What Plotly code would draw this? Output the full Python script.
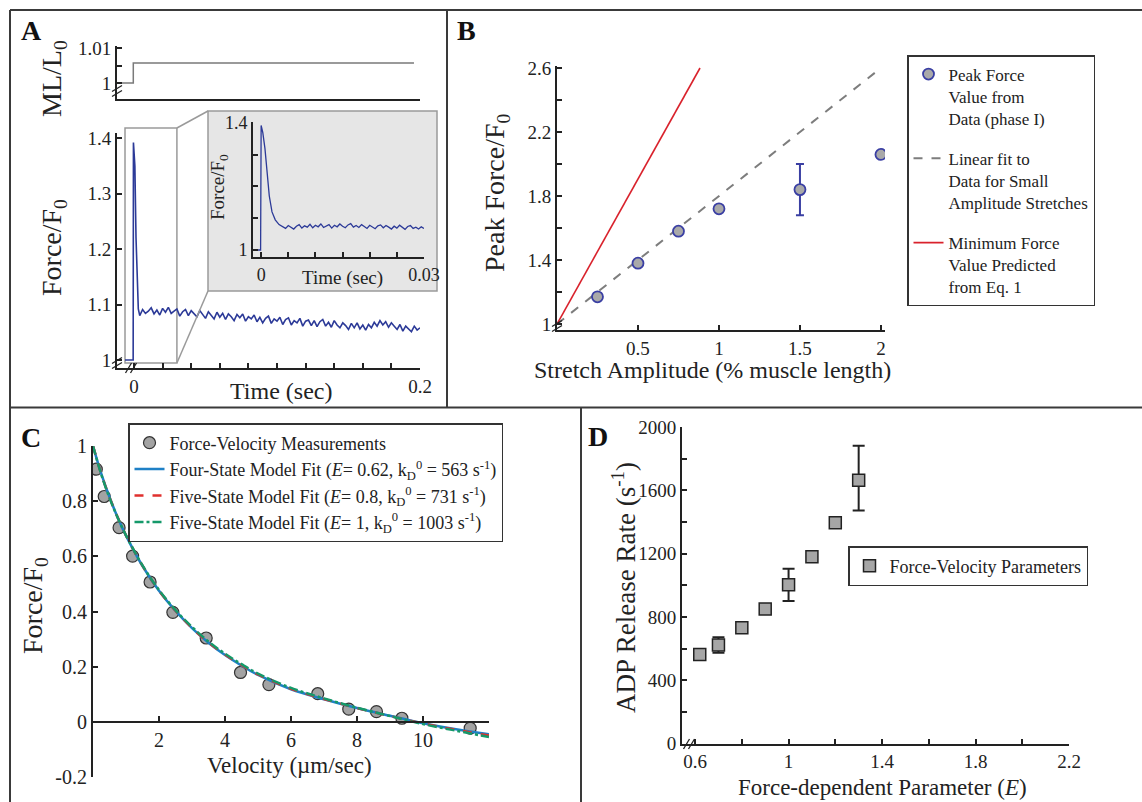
import plotly.graph_objects as go

# ======================= DATA =======================
# Panel A - length step (top trace)
stepA_time = [-0.0119, -0.0005, -0.0005, 0.1958]
stepA_ml = [1.0, 1.0, 1.0057, 1.0057]

# Panel A - force transient (main trace)
forceA_time = [
    -0.0063, -0.0006, -0.0004, 0.0006, 0.0014, 0.0022, 0.0030,
    0.004, 0.006, 0.008, 0.010, 0.012, 0.014, 0.016, 0.018, 0.020, 0.022,
    0.024, 0.026, 0.028, 0.030, 0.032, 0.034, 0.036, 0.038, 0.040, 0.042,
    0.044, 0.046, 0.048, 0.050, 0.052, 0.054, 0.056, 0.058, 0.060, 0.062,
    0.064, 0.066, 0.068, 0.070, 0.072, 0.074, 0.076, 0.078, 0.080, 0.082,
    0.084, 0.086, 0.088, 0.090, 0.092, 0.094, 0.096, 0.098, 0.100, 0.102,
    0.104, 0.106, 0.108, 0.110, 0.112, 0.114, 0.116, 0.118, 0.120, 0.122,
    0.124, 0.126, 0.128, 0.130, 0.132, 0.134, 0.136, 0.138, 0.140, 0.142,
    0.144, 0.146, 0.148, 0.150, 0.152, 0.154, 0.156, 0.158, 0.160, 0.162,
    0.164, 0.166, 0.168, 0.170, 0.172, 0.174, 0.176, 0.178, 0.180, 0.182,
    0.184, 0.186, 0.188, 0.190, 0.192, 0.194, 0.196, 0.198, 0.200,
]
forceA_val = [
    1.0, 1.0, 1.392, 1.35, 1.22, 1.13, 1.092,
    1.080, 1.091, 1.084, 1.088, 1.094, 1.083, 1.090, 1.081, 1.093, 1.086,
    1.095, 1.084, 1.088, 1.092, 1.079, 1.087, 1.091, 1.080, 1.089, 1.083,
    1.078, 1.089, 1.082, 1.075, 1.087, 1.080, 1.074, 1.086, 1.077, 1.084,
    1.073, 1.083, 1.078, 1.071, 1.082, 1.076, 1.083, 1.070, 1.078, 1.074,
    1.081, 1.069, 1.077, 1.067, 1.075, 1.079, 1.066, 1.074, 1.070, 1.077,
    1.064, 1.073, 1.076, 1.063, 1.071, 1.067, 1.075, 1.061, 1.070, 1.072,
    1.062, 1.071, 1.060, 1.069, 1.073, 1.061, 1.068, 1.059, 1.071, 1.063,
    1.058, 1.067, 1.062, 1.055, 1.066, 1.058, 1.067, 1.056, 1.063, 1.054,
    1.064, 1.058, 1.068, 1.061, 1.071, 1.063, 1.069, 1.059, 1.067, 1.061,
    1.055, 1.064, 1.052, 1.061, 1.056, 1.051, 1.061, 1.054, 1.058,
]

# Panel A - inset (first 0.03 s)
insetA_time = [
    -0.0011, -0.0001, 0.0000, 0.0003, 0.0007, 0.0011, 0.0015, 0.0020, 0.0026, 0.0033, 0.0040,
    0.0045, 0.0050, 0.0055, 0.0060, 0.0065, 0.0070, 0.0075, 0.0080, 0.0085, 0.0090,
    0.0095, 0.0100, 0.0105, 0.0110, 0.0115, 0.0120, 0.0125, 0.0130, 0.0135, 0.0140,
    0.0145, 0.0150, 0.0155, 0.0160, 0.0165, 0.0170, 0.0175, 0.0180, 0.0185, 0.0190,
    0.0195, 0.0200, 0.0205, 0.0210, 0.0215, 0.0220, 0.0225, 0.0230, 0.0235, 0.0240,
    0.0245, 0.0250, 0.0255, 0.0260, 0.0265, 0.0270, 0.0275, 0.0280, 0.0285, 0.0290,
    0.0295, 0.0300,
]
insetA_val = [
    1.0, 1.0, 1.392, 1.37, 1.32, 1.24, 1.17, 1.12, 1.095, 1.08, 1.073,
    1.068, 1.077, 1.071, 1.066, 1.075, 1.080, 1.069, 1.076, 1.072, 1.081,
    1.070, 1.078, 1.073, 1.082, 1.071, 1.076, 1.080, 1.069, 1.078, 1.073,
    1.082, 1.075, 1.070, 1.079, 1.083, 1.072, 1.077, 1.071, 1.080, 1.074,
    1.068, 1.078, 1.073, 1.067, 1.076, 1.079, 1.070, 1.077, 1.072, 1.066,
    1.075, 1.069, 1.078, 1.071, 1.065, 1.074, 1.077, 1.068, 1.072, 1.066,
    1.073, 1.068,
]
# zoom window shown in main panel A (data units)
zoomA_time = [-0.0063, 0.030]
zoomA_force = [0.9946, 1.418]

# Panel B
ampB = [0.25, 0.5, 0.75, 1.0, 1.5, 2.0]
peakB = [1.17, 1.38, 1.58, 1.72, 1.84, 2.06]
peakB_err = [0, 0, 0, 0, 0.16, 0.02]
fitB_x = [0.0, 2.0]
fitB_y = [1.0, 2.6]
minB_x = [0.0, 0.883]
minB_y = [1.0, 2.6]

# Panel C
velC = [0.10, 0.34, 0.79, 1.20, 1.73, 2.42, 3.43, 4.47, 5.33, 6.81, 7.75, 8.59, 9.36, 11.43]
forceC = [0.916, 0.817, 0.704, 0.601, 0.507, 0.397, 0.304, 0.179, 0.135, 0.102, 0.046, 0.037, 0.013, -0.023]
velC_fit = [0, 0.25, 0.5, 0.75, 1, 1.5, 2, 2.5, 3, 3.5, 4, 4.5, 5, 6, 7, 8, 9, 10, 11, 12]
fourC = [1.0, 0.900, 0.815, 0.740, 0.675, 0.565, 0.475, 0.402, 0.340, 0.287, 0.242, 0.204, 0.170, 0.118, 0.082, 0.050, 0.022, -0.005, -0.027, -0.045]
five08C = [1.0, 0.899, 0.814, 0.741, 0.676, 0.566, 0.476, 0.403, 0.341, 0.288, 0.244, 0.206, 0.172, 0.120, 0.083, 0.050, 0.021, -0.006, -0.029, -0.050]
five1C = [1.0, 0.897, 0.812, 0.740, 0.676, 0.567, 0.478, 0.405, 0.344, 0.291, 0.247, 0.209, 0.175, 0.123, 0.085, 0.051, 0.021, -0.008, -0.032, -0.055]

# Panel D
E_D = [0.62, 0.70, 0.80, 0.90, 1.00, 1.10, 1.20, 1.30]
kD_D = [563, 622, 731, 850, 1003, 1180, 1395, 1663]
errP_D = [0, 49, 0, 0, 101, 0, 0, 218]
errM_D = [0, 49, 0, 0, 103, 0, 0, 190]

# tick definitions (labelled major ticks + unlabelled minor ticks)
A_xticks = [0, 0.2]
A_xtext = ['0', '0.2']
A_xminor = [0.02, 0.04, 0.06, 0.08, 0.10, 0.12, 0.14, 0.16, 0.18]
A_yticks = [1.0, 1.1, 1.2, 1.3, 1.4]
A_ytext = ['1', '1.1', '1.2', '1.3', '1.4']
Atop_yticks = [1.0, 1.01]
Atop_ytext = ['1', '1.01']
Atop_yminor = [1.005]
In_xticks = [0, 0.030]
In_xtext = ['0', '0.03']
In_xminor = [0.005, 0.010, 0.015, 0.020, 0.025]
In_yticks = [1.0, 1.4]
In_ytext = ['1', '1.4']
In_yminor = [1.1, 1.2, 1.3]
B_xticks = [0.5, 1, 1.5, 2]
B_xtext = ['0.5', '1', '1.5', '2']
B_yticks = [1.0, 1.4, 1.8, 2.2, 2.6]
B_ytext = ['1', '1.4', '1.8', '2.2', '2.6']
B_yminor = [1.2, 1.6, 2.0, 2.4]
C_xticks = [2, 4, 6, 8, 10]
C_xtext = ['2', '4', '6', '8', '10']
C_xminor = [12]
C_yticks = [-0.2, 0, 0.2, 0.4, 0.6, 0.8, 1.0]
C_ytext = ['-0.2', '0', '0.2', '0.4', '0.6', '0.8', '1']
D_xticks = [0.6, 1.0, 1.4, 1.8, 2.2]
D_xtext = ['0.6', '1', '1.4', '1.8', '2.2']
D_xminor = [0.8, 1.2, 1.6, 2.0]
D_yticks = [0, 400, 800, 1200, 1600, 2000]
D_ytext = ['0', '400', '800', '1200', '1600', '2000']
D_yminor = [200, 600, 1000, 1400, 1800]

# ======================= LAYOUT HELPERS =======================
W, H = 1142, 802
FONT = 'Liberation Serif'
INK = '#222222'


def px(x):
    return x / W


def py(y):
    return 1 - y / H


def xdom(x0, x1):
    return [px(x0), px(x1)]


def ydom(ytop, ybot):
    return [py(ybot), py(ytop)]


# subplot boxes (pixels)
dom = {
    'Atop': (xdom(117, 420), ydom(46, 99)),
    'A': (xdom(117, 420), ydom(133, 368)),
    'In': (xdom(253, 424), ydom(122, 257)),
    'B': (xdom(557, 885), ydom(66, 330)),
    'C': (xdom(93, 489), ydom(446, 777)),
    'D': (xdom(682, 1069), ydom(427, 743.5)),
}
rng = {
    'Atop': ([-0.0119, 0.2], [0.99543, 1.0106]),
    'A': ([-0.0119, 0.2], [0.9856, 1.409]),
    'In': ([-0.0015, 0.0300], [0.978, 1.403]),
    'B': ([0, 2.025], [0.9626, 2.6125]),
    'C': ([0, 12], [-0.2, 1.0]),
    'D': ([0.544, 2.2], [0, 2000]),
}


def to_paper(key, xv, yv):
    (dx, dy), (rx, ry) = dom[key], rng[key]
    X = dx[0] + (xv - rx[0]) / (rx[1] - rx[0]) * (dx[1] - dx[0])
    Y = dy[0] + (yv - ry[0]) / (ry[1] - ry[0]) * (dy[1] - dy[0])
    return X, Y


def minor(vals):
    return dict(tickmode='array', tickvals=vals, ticks='inside', ticklen=5, tickwidth=1.5,
                tickcolor=INK, showgrid=False)


def axis(key, which, **kw):
    d = dict(
        domain=dom[key][0] if which == 'x' else dom[key][1],
        range=rng[key][0] if which == 'x' else rng[key][1],
        showgrid=False, zeroline=False, showline=True, linecolor=INK, linewidth=2,
        ticks='inside', ticklen=5, tickwidth=1.5, tickcolor=INK, automargin=False,
        tickmode='array',
        tickfont=dict(family=FONT, size=19, color=INK), fixedrange=True,
    )
    d.update(kw)
    return d


fig = go.Figure()

# ---------------- Panel A ----------------
fig.add_trace(go.Scatter(x=stepA_time, y=stepA_ml, mode='lines', line=dict(color='#7a7a7a', width=1.5),
                         xaxis='x', yaxis='y', showlegend=False, hoverinfo='skip'))
fig.add_trace(go.Scatter(x=forceA_time, y=forceA_val, mode='lines', line=dict(color='#2c3a98', width=1.6),
                         xaxis='x2', yaxis='y2', showlegend=False))
fig.add_trace(go.Scatter(x=insetA_time, y=insetA_val, mode='lines', line=dict(color='#2c3a98', width=1.3),
                         xaxis='x3', yaxis='y3', showlegend=False))

# ---------------- Panel B ----------------
fig.add_trace(go.Scatter(x=fitB_x, y=fitB_y, mode='lines', line=dict(color='#7d7d7d', width=2, dash='dash'),
                         name='Linear fit to<br>Data for Small<br>Amplitude Stretches', legend='legend',
                         legendgroup='b2', legendrank=2, xaxis='x4', yaxis='y4'))
fig.add_trace(go.Scatter(x=minB_x, y=minB_y, mode='lines', line=dict(color='#d9222c', width=1.6),
                         name='Minimum Force<br>Value Predicted<br>from Eq. 1', legend='legend',
                         legendgroup='b3', legendrank=3, xaxis='x4', yaxis='y4'))
fig.add_trace(go.Scatter(x=ampB, y=peakB, mode='markers',
                         marker=dict(symbol='circle', size=11, color='#a9a9a9', line=dict(color='#3a3fa3', width=1.8)),
                         error_y=dict(type='data', array=peakB_err, color='#3a3fa3', thickness=2, width=4),
                         name='Peak Force<br>Value from<br>Data (phase I)', legend='legend',
                         legendgroup='b1', legendrank=1, xaxis='x4', yaxis='y4'))

# ---------------- Panel C ----------------
fig.add_trace(go.Scatter(x=velC, y=forceC, mode='markers',
                         marker=dict(symbol='circle', size=12, color='#a3a3a3', line=dict(color='#333333', width=1.2)),
                         name='Force-Velocity Measurements', legend='legend2', legendgroup='c1', legendrank=1,
                         xaxis='x5', yaxis='y5'))
fig.add_trace(go.Scatter(x=velC_fit, y=fourC, mode='lines', line=dict(color='#1f80c6', width=2.5, shape='spline'),
                         name='Four-State Model Fit (<i>E</i>= 0.62, k<sub>D</sub><sup>0</sup> = 563 s<sup>-1</sup>)',
                         legend='legend2', legendgroup='c2', legendrank=2, xaxis='x5', yaxis='y5'))
fig.add_trace(go.Scatter(x=velC_fit, y=five08C, mode='lines', line=dict(color='#e0302e', width=2.5, dash='dash', shape='spline'),
                         name='Five-State Model Fit (<i>E</i>= 0.8, k<sub>D</sub><sup>0</sup> = 731 s<sup>-1</sup>)',
                         legend='legend2', legendgroup='c3', legendrank=3, xaxis='x5', yaxis='y5'))
fig.add_trace(go.Scatter(x=velC_fit, y=five1C, mode='lines', line=dict(color='#15996a', width=2.5, dash='dashdot', shape='spline'),
                         name='Five-State Model Fit (<i>E</i>= 1, k<sub>D</sub><sup>0</sup> = 1003 s<sup>-1</sup>)',
                         legend='legend2', legendgroup='c4', legendrank=4, xaxis='x5', yaxis='y5'))

# ---------------- Panel D ----------------
fig.add_trace(go.Scatter(x=E_D, y=kD_D, mode='markers',
                         marker=dict(symbol='square', size=12, color='#a6a6a6', line=dict(color='#222222', width=1.5)),
                         error_y=dict(type='data', array=errP_D, arrayminus=errM_D, color='#222222', thickness=2, width=6),
                         name='Force-Velocity Parameters', legend='legend3', xaxis='x7', yaxis='y7'))

# ======================= SHAPES =======================
shapes = []
line_col = '#3a3a3a'


def seg(x0, y0, x1, y1, color=line_col, width=2, layer='above'):
    shapes.append(dict(type='line', xref='paper', yref='paper', x0=px(x0), y0=py(y0), x1=px(x1), y1=py(y1),
                       line=dict(color=color, width=width), layer=layer))


# panel frame
seg(10, 10, 1142, 10)
seg(10, 10, 10, 802)
seg(447, 10, 447, 407)
seg(10, 407.5, 1142, 407.5)
seg(581, 407, 581, 802)

# inset background + connectors (layout decoration)
shapes.append(dict(type='rect', xref='paper', yref='paper', x0=px(208), y0=py(291), x1=px(437), y1=py(111),
                   fillcolor='#e6e6e6', line=dict(color='#9a9a9a', width=1.5), layer='below'))
zx0, zy0 = to_paper('A', zoomA_time[0], zoomA_force[0])
zx1, zy1 = to_paper('A', zoomA_time[1], zoomA_force[1])
shapes.append(dict(type='rect', xref='paper', yref='paper', x0=zx0, y0=zy0, x1=zx1, y1=zy1,
                   line=dict(color='#9a9a9a', width=1.5), layer='below'))
shapes.append(dict(type='line', xref='paper', yref='paper', x0=zx1, y0=zy1, x1=px(208), y1=py(111),
                   line=dict(color='#9a9a9a', width=1.5)))
shapes.append(dict(type='line', xref='paper', yref='paper', x0=zx1, y0=zy0, x1=px(208), y1=py(291),
                   line=dict(color='#9a9a9a', width=1.5)))


def brk(cx, cy, along='y'):
    for o in (-2.5, 2.5):
        if along == 'y':
            seg(cx - 5, cy + o + 3, cx + 5, cy + o - 3, color=INK, width=1.3)
        else:
            seg(cx + o - 3, cy + 5, cx + o + 3, cy - 5, color=INK, width=1.3)


brk(117, 91, 'y')
brk(117, 363, 'y')
brk(131, 368, 'x')
brk(557, 326, 'y')
brk(689, 744, 'x')

# ======================= ANNOTATIONS (panel letters + axis titles) =======================
annotations = []
for lab, x, y in [('A', 31, 31), ('B', 466, 31), ('C', 31, 438), ('D', 598, 436)]:
    annotations.append(dict(text='<b>%s</b>' % lab, xref='paper', yref='paper', x=px(x), y=py(y),
                            xanchor='center', yanchor='middle', showarrow=False,
                            font=dict(family=FONT, size=28, color='#111111')))

axis_titles = [
    # text, x, y, size, angle
    ('ML/L<sub>0</sub>', 53, 78, 28, -90),
    ('Force/F<sub>0</sub>', 53, 247, 28, -90),
    ('Time (sec)', 281, 391, 24, 0),
    ('Force/F<sub>0</sub>', 219, 187, 19, -90),
    ('Time (sec)', 342, 278, 19, 0),
    ('Peak Force/F<sub>0</sub>', 497, 193, 28, -90),
    ('Stretch Amplitude (% muscle length)', 712, 370, 24, 0),
    ('Force/F<sub>0</sub>', 34, 606, 28, -90),
    ('Velocity (µm/sec)', 289, 765, 23, 0),
    ('ADP Release Rate (s<sup>-1</sup>)', 624, 587, 27, -90),
    ('Force-dependent Parameter (<i>E</i>)', 882, 787, 23, 0),
]
for txt, x, y, s, ang in axis_titles:
    annotations.append(dict(text=txt, xref='paper', yref='paper', x=px(x), y=py(y),
                            xanchor='center', yanchor='middle', showarrow=False, textangle=ang,
                            font=dict(family=FONT, size=s, color=INK)))

legend_common = dict(bgcolor='white', bordercolor='#333333', borderwidth=1.5,
                     font=dict(family=FONT, size=18, color=INK), xanchor='left', yanchor='top',
                     itemclick=False, itemdoubleclick=False)

fig.update_layout(
    width=W, height=H, margin=dict(l=0, r=0, t=0, b=0, pad=0), autosize=False,
    paper_bgcolor='white', plot_bgcolor='rgba(0,0,0,0)',
    font=dict(family=FONT, color=INK),
    showlegend=True,
    xaxis=axis('Atop', 'x', anchor='y', ticks='', showticklabels=False),
    yaxis=axis('Atop', 'y', anchor='x', tickvals=Atop_yticks, ticktext=Atop_ytext, minor=minor(Atop_yminor)),
    xaxis2=axis('A', 'x', anchor='y2', tickvals=A_xticks, ticktext=A_xtext, minor=minor(A_xminor)),
    yaxis2=axis('A', 'y', anchor='x2', tickvals=A_yticks, ticktext=A_ytext),
    xaxis3=axis('In', 'x', anchor='y3', tickvals=In_xticks, ticktext=In_xtext, minor=minor(In_xminor),
                tickfont=dict(family=FONT, size=18, color=INK)),
    yaxis3=axis('In', 'y', anchor='x3', tickvals=In_yticks, ticktext=In_ytext, minor=minor(In_yminor),
                tickfont=dict(family=FONT, size=18, color=INK)),
    xaxis4=axis('B', 'x', anchor='y4', tickvals=B_xticks, ticktext=B_xtext),
    yaxis4=axis('B', 'y', anchor='x4', tickvals=B_yticks, ticktext=B_ytext, minor=minor(B_yminor)),
    xaxis5=axis('C', 'x', anchor='free', position=py(722), tickvals=C_xticks, ticktext=C_xtext,
                minor=minor(C_xminor), tickfont=dict(family=FONT, size=20, color=INK)),
    yaxis5=axis('C', 'y', anchor='x5', tickvals=C_yticks, ticktext=C_ytext,
                tickfont=dict(family=FONT, size=20, color=INK)),
    xaxis7=axis('D', 'x', anchor='y7', tickvals=D_xticks, ticktext=D_xtext, minor=minor(D_xminor)),
    yaxis7=axis('D', 'y', anchor='x7', tickvals=D_yticks, ticktext=D_ytext, minor=minor(D_yminor)),
    legend=dict(legend_common, x=px(907), y=py(55), valign='top', tracegroupgap=15,
                font=dict(family=FONT, size=17, color=INK)),
    legend2=dict(legend_common, x=px(128), y=py(423), tracegroupgap=0),
    legend3=dict(legend_common, x=px(848), y=py(546)),
    shapes=shapes,
    annotations=annotations,
)

fig.write_html('out.html', config={'displayModeBar': False},
               post_script="document.body.style.margin='0px';document.body.style.overflow='hidden';")
